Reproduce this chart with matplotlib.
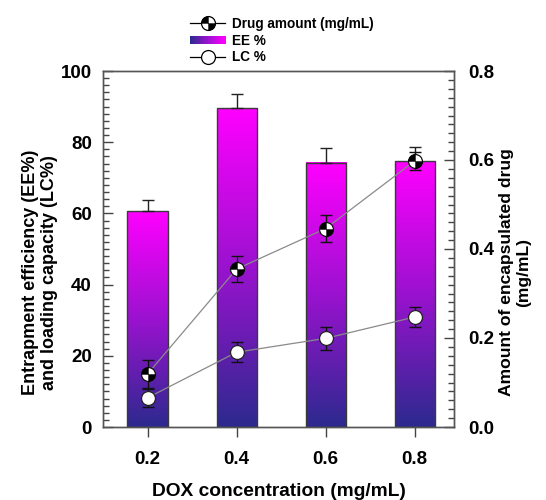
import numpy as np
import matplotlib
matplotlib.use("Agg")
import matplotlib.pyplot as plt
from matplotlib.path import Path
from matplotlib.patches import Rectangle
from matplotlib.legend_handler import HandlerBase
from matplotlib.lines import Line2D
from matplotlib.colors import LinearSegmentedColormap
from matplotlib.ticker import MultipleLocator, FormatStrFormatter

plt.rcParams['font.family'] = ['Liberation Sans', 'DejaVu Sans']
plt.rcParams['font.weight'] = 'bold'

# ---- data ----
dox = [0.2, 0.4, 0.6, 0.8]
ee = [60.6, 89.6, 74.2, 74.7]
ee_err = [3.1, 3.9, 4.1, 4.0]
lc = [8.2, 21.0, 24.9, 30.9]
lc_err = [2.5, 2.8, 3.2, 2.7]
drug = [0.119, 0.355, 0.446, 0.598]
drug_err = [0.031, 0.030, 0.030, 0.020]

xticklabels = ['0.2', '0.4', '0.6', '0.8']

cmap = LinearSegmentedColormap.from_list('g', ['#2c2a8e', '#9a12cf', '#ff00ff'])

fig = plt.figure(figsize=(5.46, 5.0), dpi=100)
ax = fig.add_axes([0.1886, 0.146, 0.6429, 0.712])
ax2 = ax.twinx()

bw = 0.09
grad = np.linspace(0, 1, 256).reshape(-1, 1)
bars = ax.bar(dox, ee, width=bw, facecolor='none', edgecolor='#3a3a3a',
              linewidth=1.0, zorder=3)
for b in bars:
    x0 = b.get_x()
    h = b.get_height()
    ax.imshow(grad, extent=[x0, x0 + bw, 0, h], origin='lower', cmap=cmap,
              aspect='auto', zorder=2, interpolation='bicubic')
ax.errorbar(dox, ee, yerr=[np.zeros(len(ee)), ee_err], fmt='none', ecolor='#222222',
            elinewidth=1.0, capsize=4, capthick=1.0, zorder=4)

# LC on left axis
ax.plot(dox, lc, color='#8a8a8a', lw=0.9, zorder=5)
ax.errorbar(dox, lc, yerr=lc_err, fmt='none', ecolor='#111111', elinewidth=1.0,
            capsize=4, capthick=1.0, zorder=6)
ax.plot(dox, lc, ls='none', marker='o', ms=10, mfc='white', mec='#222222',
        mew=0.9, zorder=7)

# Drug amount on right axis (quadrant marker)
quad = Path.make_compound_path(Path.wedge(90, 180), Path.wedge(270, 360))
ax2.plot(dox, drug, color='#8a8a8a', lw=0.9, zorder=5)
ax2.errorbar(dox, drug, yerr=drug_err, fmt='none', ecolor='#111111', elinewidth=1.0,
             capsize=4, capthick=1.0, zorder=6)
ax2.plot(dox, drug, ls='none', marker='o', ms=10, mfc='white', mec='#111111',
         mew=0.9, zorder=7)
ax2.plot(dox, drug, ls='none', marker=quad, ms=10, mfc='black', mec='black',
         mew=0.3, zorder=8)

ax.set_xlim(0.1, 0.888)
ax.set_ylim(0, 100)
ax2.set_ylim(0, 0.8)

ax.set_xticks(dox)
ax.set_xticklabels(xticklabels)
ax.yaxis.set_major_locator(MultipleLocator(20))
ax.yaxis.set_minor_locator(MultipleLocator(2))
ax2.yaxis.set_major_locator(MultipleLocator(0.2))
ax2.yaxis.set_minor_locator(MultipleLocator(0.02))
ax2.yaxis.set_major_formatter(FormatStrFormatter('%.1f'))

for a in (ax, ax2):
    for s in a.spines.values():
        s.set_color('#555555')
        s.set_linewidth(1.0)
fs_tick = 13.5
ax.tick_params(axis='x', direction='out', length=7, width=1, pad=10,
               labelsize=fs_tick, color='#444444')
ax.tick_params(axis='y', which='major', direction='in', length=7, width=1,
               pad=8, labelsize=fs_tick, color='#444444')
ax.tick_params(axis='y', which='minor', direction='in', length=4, width=1,
               color='#444444')
ax2.tick_params(axis='y', which='major', direction='in', length=7, width=1,
                pad=10, labelsize=fs_tick, color='#444444')
ax2.tick_params(axis='y', which='minor', direction='in', length=4, width=1,
                color='#444444')
for lab in ax.get_xticklabels() + ax.get_yticklabels() + ax2.get_yticklabels():
    lab.set_fontweight('bold')

ax.set_xlabel('DOX concentration (mg/mL)', fontsize=13.8, fontweight='bold', labelpad=11)
ax.set_ylabel('Entrapment efficiency (EE%)\nand loading capacity (LC%)',
              fontsize=13.0, fontweight='bold', linespacing=1.15)
ax2.set_ylabel('Amount of encapsulated drug\n(mg/mL)', fontsize=12.6,
               fontweight='bold', linespacing=1.15)
ax.yaxis.set_label_coords(-0.128, 0.435)
ax2.yaxis.set_label_coords(1.128, 0.435)

# ---- legend ----
class HandlerGradient(HandlerBase):
    def create_artists(self, legend, orig_handle, xdescent, ydescent, width,
                       height, fontsize, trans):
        n = 40
        arts = []
        for i in range(n):
            c = cmap(i / (n - 1))
            r = Rectangle((-xdescent + width * i / n, -ydescent + height * 0.12),
                          width / n + 0.3, height * 0.76, facecolor=c,
                          edgecolor='none', transform=trans)
            arts.append(r)
        return arts

h_drug_line = Line2D([], [], color='black', lw=0.9, marker='o', ms=10,
                     mfc='white', mec='black', mew=0.9)
h_drug_quad = Line2D([], [], ls='none', marker=quad, ms=10, mfc='black',
                     mec='black', mew=0.3)
h_ee = Rectangle((0, 0), 1, 1)
h_lc = Line2D([], [], color='black', lw=0.9, marker='o', ms=10, mfc='white',
              mec='black', mew=0.9)
fig.legend([(h_drug_line, h_drug_quad), h_ee, h_lc],
           ['Drug amount (mg/mL)', 'EE %', 'LC %'],
           handler_map={h_ee: HandlerGradient()},
           loc='upper left', bbox_to_anchor=(0.338, 0.977), frameon=False,
           prop={'weight': 'bold', 'size': 9.8}, handlelength=2.6,
           handletextpad=0.5, labelspacing=0.2, borderaxespad=0)

fig.savefig('out.png', dpi=100)
